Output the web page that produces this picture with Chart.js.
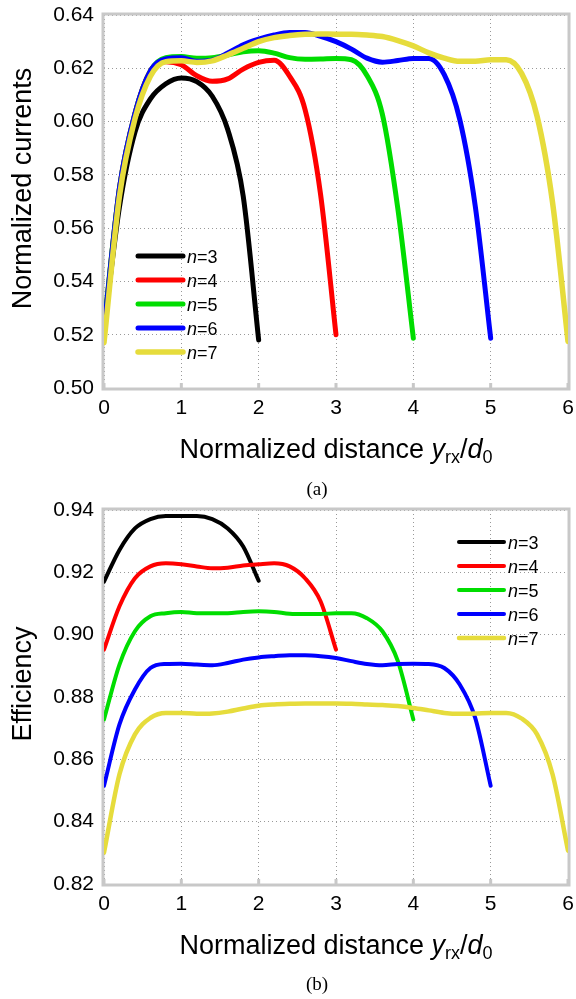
<!DOCTYPE html>
<html lang="en">
<head>
    <meta charset="UTF-8">
    <title>Normalized currents and efficiency</title>
    <script src="https://cdn.jsdelivr.net/npm/chart.js@4.4.1/dist/chart.umd.min.js"></script>
    <style>
        body {
            margin: 0;
            background: #fff;
            width: 576px;
            height: 999px;
            position: relative;
            overflow: hidden;
        }
        canvas {
            position: absolute;
            left: 0;
        }
        #chartA { top: 0; }
        #chartB { top: 500px; }
        .caption {
            position: absolute;
            left: 292px;
            width: 50px;
            text-align: center;
            font-family: "Times New Roman", "Liberation Serif", serif;
            font-size: 19px;
            line-height: 19px;
        }
    </style>
</head>
<body>
    <canvas id="chartA" width="576" height="500"></canvas>
    <canvas id="chartB" width="576" height="499"></canvas>
    <div class="caption" style="top: 479px;">(a)</div>
    <div class="caption" style="top: 974px;">(b)</div>

    <script>
        // x positions (normalized distance y_rx/d_0)
        const distance = [0.0, 0.2, 0.4, 0.6, 0.8, 1.0, 1.2, 1.4, 1.6, 1.8, 2.0, 2.2, 2.4, 2.6, 2.8,
                          3.0, 3.2, 3.4, 3.6, 3.8, 4.0, 4.2, 4.4, 4.6, 4.8, 5.0, 5.2, 5.4, 5.6, 5.8, 6.0];
        const seriesLabels = ['n=3', 'n=4', 'n=5', 'n=6', 'n=7'];
        const seriesColors = ['#000000', '#ff0000', '#00dd00', '#0000ff', '#e6dc3c'];
        const xTicks = [0, 1, 2, 3, 4, 5, 6];

        // (a) normalized currents
        const currentN3 = [0.522, 0.568, 0.596, 0.6085, 0.6142, 0.6164, 0.615, 0.6095, 0.597, 0.572, 0.518];
        const currentN4 = [0.522, 0.575, 0.603, 0.619, 0.6225, 0.6213, 0.6172, 0.6151, 0.616, 0.6197, 0.6222,
                           0.623, 0.617, 0.6045, 0.5728, 0.520];
        const currentN5 = [0.523, 0.575, 0.603, 0.619, 0.624, 0.6244, 0.6238, 0.624, 0.625, 0.6262, 0.6266,
                           0.6257, 0.624, 0.6234, 0.6235, 0.6237, 0.6232, 0.6173, 0.6027, 0.5672, 0.5187];
        const currentN6 = [0.522, 0.575, 0.603, 0.619, 0.6235, 0.624, 0.6226, 0.623, 0.6257, 0.6288, 0.6309,
                           0.6325, 0.6334, 0.6334, 0.632, 0.630, 0.6272, 0.6238, 0.6223, 0.6229, 0.6237,
                           0.6237, 0.6176, 0.6008, 0.5684, 0.5187];
        const currentN7 = [0.517, 0.572, 0.601, 0.617, 0.6225, 0.6228, 0.6222, 0.6228, 0.625, 0.6275, 0.630,
                           0.6315, 0.6323, 0.6328, 0.6329, 0.6328, 0.6328, 0.6325, 0.6319, 0.6304, 0.6284,
                           0.6258, 0.6238, 0.6226, 0.6226, 0.6232, 0.6232, 0.6181, 0.602, 0.5697, 0.5175];
        const currentTicks = [0.50, 0.52, 0.54, 0.56, 0.58, 0.60, 0.62, 0.64];

        // (b) efficiency
        const effN3 = [0.917, 0.9272, 0.9341, 0.9371, 0.9381, 0.9381, 0.9381, 0.9371, 0.9341, 0.9283, 0.9173];
        const effN4 = [0.8952, 0.9091, 0.9181, 0.9219, 0.9229, 0.9226, 0.9219, 0.9213, 0.9215, 0.9222, 0.9226,
                       0.9229, 0.9219, 0.9181, 0.9107, 0.8952];
        const effN5 = [0.8728, 0.8904, 0.9011, 0.9059, 0.9069, 0.9073, 0.9069, 0.9069, 0.9069, 0.9073, 0.9075,
                       0.9073, 0.9067, 0.9066, 0.9066, 0.9069, 0.9069, 0.9053, 0.9011, 0.8915, 0.8728];
        const effN6 = [0.8515, 0.8712, 0.8824, 0.8893, 0.8906, 0.8907, 0.8904, 0.8902, 0.8909, 0.892, 0.8927,
                       0.8931, 0.8934, 0.8934, 0.8931, 0.8925, 0.8915, 0.8906, 0.8902, 0.8906, 0.8907,
                       0.8906, 0.8893, 0.884, 0.8733, 0.8515];
        const effN7 = [0.8301, 0.8552, 0.868, 0.8733, 0.8749, 0.8749, 0.8746, 0.8747, 0.8753, 0.8763, 0.8772,
                       0.8776, 0.8778, 0.8779, 0.8779, 0.8779, 0.8778, 0.8776, 0.8774, 0.8771, 0.8765,
                       0.8757, 0.8749, 0.8746, 0.8747, 0.8749, 0.8749, 0.8731, 0.868, 0.8552, 0.8307];
        const effTicks = [0.82, 0.84, 0.86, 0.88, 0.90, 0.92, 0.94];

        const xTitle = [
            { t: 'Normalized distance ' },
            { t: 'y', italic: true },
            { t: 'rx', sub: true },
            { t: '/' },
            { t: 'd', italic: true },
            { t: '0', sub: true }
        ];

        const FONT = 'Arial, "Liberation Sans", Helvetica, sans-serif';
        const frameColor = '#c8c8c8';

        function fontStr(size, italic) {
            return (italic ? 'italic ' : '') + size + 'px ' + FONT;
        }

        // draws text pieces with italic / subscript, centred on cx
        function drawRich(ctx, parts, cx, baseline, size) {
            const subSize = Math.round(size * 0.68);
            let total = 0;
            parts.forEach(p => {
                ctx.font = fontStr(p.sub ? subSize : size, p.italic);
                p.w = ctx.measureText(p.t).width;
                total += p.w;
            });
            let x = cx - total / 2;
            ctx.textAlign = 'left';
            ctx.textBaseline = 'alphabetic';
            parts.forEach(p => {
                ctx.font = fontStr(p.sub ? subSize : size, p.italic);
                ctx.fillText(p.t, x, p.sub ? baseline + size * 0.2 : baseline);
                x += p.w;
            });
        }

        const framePlugin = {
            id: 'frame',
            beforeDatasetsDraw(chart) {
                const { ctx, chartArea: a, scales } = chart;
                ctx.save();
                ctx.strokeStyle = frameColor;
                ctx.lineWidth = 3;
                ctx.strokeRect(a.left - 1, a.top - 1, a.right - a.left + 2, a.bottom - a.top + 2);
                ctx.fillStyle = frameColor;
                xTicks.forEach(v => {
                    const px = scales.x.getPixelForValue(v);
                    ctx.fillRect(px - 1.5, a.bottom - 5, 3, 5);
                });
                ctx.restore();
            }
        };

        const textPlugin = {
            id: 'figText',
            afterDraw(chart, args, opts) {
                const { ctx, chartArea: a } = chart;
                ctx.save();
                ctx.fillStyle = '#000';
                drawRich(ctx, xTitle, (a.left + a.right) / 2, a.bottom + 70, 27);

                ctx.save();
                ctx.translate(31, (a.top + a.bottom) / 2 - 13);
                ctx.rotate(-Math.PI / 2);
                drawRich(ctx, [{ t: opts.yTitle }], 0, 0, 27);
                ctx.restore();

                // legend inside the plot
                chart.data.datasets.forEach((ds, i) => {
                    const x0 = a.left + opts.legendX;
                    const y = a.top + opts.legendY + i * 24;
                    ctx.strokeStyle = ds.borderColor;
                    ctx.lineWidth = ds.borderWidth;
                    ctx.lineCap = 'round';
                    ctx.beginPath();
                    ctx.moveTo(x0, y);
                    ctx.lineTo(x0 + 45, y);
                    ctx.stroke();
                    const label = ds.label;
                    const parts = [{ t: label.slice(0, 1), italic: true }, { t: label.slice(1) }];
                    let w = 0;
                    parts.forEach(p => { ctx.font = fontStr(18, p.italic); w += ctx.measureText(p.t).width; });
                    drawRich(ctx, parts, x0 + 49 + w / 2, y + 6.5, 18);
                });
                ctx.restore();
            }
        };

        function makeChart(id, series, yTicks, opts) {
            const datasets = series.map((vals, i) => ({
                label: seriesLabels[i],
                data: vals.map((v, k) => ({ x: distance[k], y: v })),
                borderColor: seriesColors[i],
                backgroundColor: seriesColors[i],
                borderWidth: opts.lineWidth[i],
                borderCapStyle: 'round',
                borderJoinStyle: 'round',
                pointRadius: 0,
                cubicInterpolationMode: 'monotone',
                order: 10 - i
            }));

            return new Chart(document.getElementById(id), {
                type: 'line',
                data: { datasets },
                plugins: [framePlugin, textPlugin],
                options: {
                    responsive: false,
                    animation: false,
                    layout: { padding: { top: opts.padTop, right: 8, left: 0, bottom: 0 } },
                    plugins: {
                        legend: { display: false },
                        tooltip: { enabled: false },
                        figText: { yTitle: opts.yTitle, legendX: opts.legendX, legendY: opts.legendY }
                    },
                    scales: {
                        x: {
                            type: 'linear',
                            min: xTicks[0],
                            max: xTicks[xTicks.length - 1],
                            afterFit(scale) {
                                scale.height = opts.xHeight;
                                scale.paddingLeft = 0;
                                scale.paddingRight = 0;
                            },
                            afterBuildTicks(scale) { scale.ticks = xTicks.map(v => ({ value: v })); },
                            ticks: {
                                color: '#000',
                                padding: 8,
                                font: { family: FONT, size: 21 }
                            },
                            grid: { color: '#999', lineWidth: 1, drawTicks: false },
                            border: { display: false, dash: [1, 3] }
                        },
                        y: {
                            min: yTicks[0],
                            max: yTicks[yTicks.length - 1],
                            afterFit(scale) {
                                scale.width = 104;
                                scale.paddingTop = 0;
                                scale.paddingBottom = 0;
                            },
                            afterBuildTicks(scale) { scale.ticks = yTicks.map(v => ({ value: v })); },
                            ticks: {
                                color: '#000',
                                padding: 10,
                                font: { family: FONT, size: 21 },
                                callback: v => v.toFixed(2)
                            },
                            grid: { color: '#999', lineWidth: 1, drawTicks: false },
                            border: { display: false, dash: [1, 3] }
                        }
                    }
                }
            });
        }

        makeChart('chartA', [currentN3, currentN4, currentN5, currentN6, currentN7], currentTicks, {
            yTitle: 'Normalized currents',
            padTop: 15,
            xHeight: 112,
            legendX: 34,
            legendY: 241,
            lineWidth: [5, 5, 5, 5, 5.5]
        });

        makeChart('chartB', [effN3, effN4, effN5, effN6, effN7], effTicks, {
            yTitle: 'Efficiency',
            padTop: 10,
            xHeight: 115,
            legendX: 355,
            legendY: 32,
            lineWidth: [4, 4, 4, 4, 4.5]
        });
    </script>
</body>
</html>
